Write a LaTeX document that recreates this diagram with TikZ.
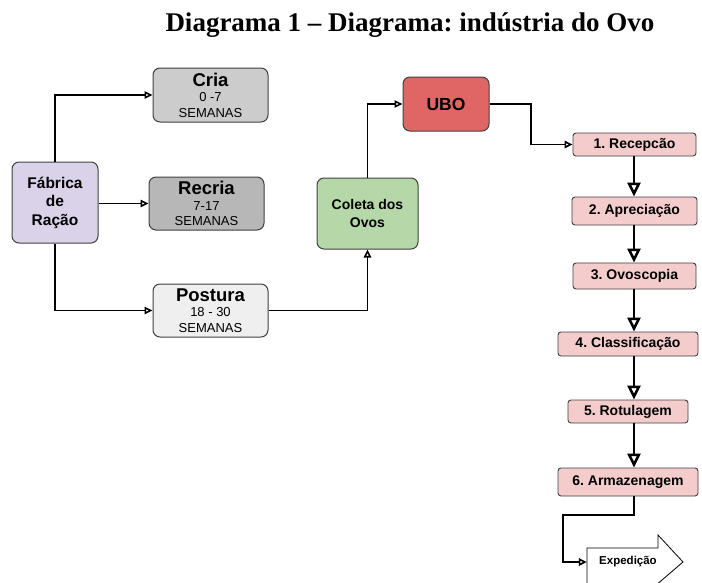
\documentclass[tikz,border=0pt]{standalone}
\usepackage{fontspec}
\setmainfont{Liberation Serif}
\setsansfont{Liberation Sans}
\usetikzlibrary{arrows.meta,calc}
\definecolor{fabfill}{HTML}{D9D2E9}
\definecolor{criafill}{HTML}{CCCCCC}
\definecolor{recriafill}{HTML}{B7B7B7}
\definecolor{posturafill}{HTML}{EFEFEF}
\definecolor{coletafill}{HTML}{B6D7A8}
\definecolor{ubofill}{HTML}{E06666}
\definecolor{stepfill}{HTML}{F4CCCC}
\definecolor{edge}{HTML}{404040}
\frenchspacing
\begin{document}
\begin{tikzpicture}[x=1pt,y=-1pt,
  box/.style={draw=edge, line width=1pt, rounded corners=7pt, align=center, inner sep=0pt, font=\sffamily},
  stepbox/.style={draw=edge, line width=0.9pt, rounded corners=3pt, fill=stepfill, inner sep=0pt,
    font=\sffamily\bfseries\fontsize{14}{16}\selectfont},
  conn/.style={line width=1.6pt, -{Triangle[open,length=8pt,width=7.5pt]}},
  bigconn/.style={line width=2.6pt, -{Triangle[open,length=14pt,width=13pt]}},
  sub/.style={font=\sffamily\fontsize{13}{15.5}\selectfont}
]
\useasboundingbox (0,0) rectangle (702,582);

\node[font=\bfseries\fontsize{27}{30}\selectfont, anchor=base] (title) at (410,31) {Diagrama 1 – Diagrama: indústria do Ovo};

\node[box, fill=fabfill, minimum width=86pt, minimum height=81pt,
  font=\sffamily\bfseries\fontsize{15.5}{18.5}\selectfont] (fab) at (55,202.5) {Fábrica\\de\\Ração};

\node[box, sub, fill=criafill, minimum width=115pt, minimum height=54pt] (cria) at (210.5,95)
  {{\bfseries\fontsize{18.5}{18}\selectfont Cria}\\0 -7\\SEMANAS};
\node[box, sub, fill=recriafill, minimum width=115pt, minimum height=53pt] (recria) at (206.5,203.5)
  {{\bfseries\fontsize{18.5}{18}\selectfont Recria}\\7-17\\SEMANAS};
\node[box, sub, fill=posturafill, minimum width=115pt, minimum height=53pt] (postura) at (210.5,310.5)
  {{\bfseries\fontsize{18.5}{18}\selectfont Postura}\\18 - 30\\SEMANAS};

\node[box, fill=coletafill, minimum width=101pt, minimum height=71pt,
  font=\sffamily\bfseries\fontsize{14}{18}\selectfont] (coleta) at (367.5,213.5) {Coleta dos\\Ovos};
\node[box, fill=ubofill, minimum width=86pt, minimum height=54pt,
  font=\sffamily\bfseries\fontsize{17.5}{20}\selectfont] (ubo) at (446,104) {UBO};

\node[stepbox, minimum width=123pt, minimum height=23pt] (s1) at (634.5,144.5) {1. Recepcão};
\node[stepbox, minimum width=125pt, minimum height=28pt] (s2) at (634.5,211) {2. Apreciação};
\node[stepbox, minimum width=123pt, minimum height=26pt] (s3) at (634.5,276) {3. Ovoscopia};
\node[stepbox, minimum width=140pt, minimum height=24pt] (s4) at (628,344) {4. Classificação};
\node[stepbox, minimum width=120pt, minimum height=23pt] (s5) at (628,411.5) {5. Rotulagem};
\node[stepbox, minimum width=140pt, minimum height=28pt] (s6) at (628,482) {6. Armazenagem};

% Expedicao arrow shape
\draw[line width=0.8pt, draw=black, fill=white]
  (587,548) -- (658,548) -- (658,535) -- (683,562) -- (655,586) -- (587,586) -- cycle;
\node[inner sep=0pt, minimum width=82pt, minimum height=28pt,
  font=\sffamily\bfseries\fontsize{11.5}{13}\selectfont] (exp) at (628,562) {Expedição};

% connectors
\draw[conn] (fab.north) |- (cria.west);
\draw[conn] (fab.east |- recria.west) -- (recria.west);
\draw[conn] (fab.south) |- (postura.west);
\draw[conn] (postura.east) -| (coleta.south);
\draw[conn] (coleta.north) |- (ubo.west);
\coordinate (k0) at (531,104);
\draw[conn] (ubo.east) -- (k0) |- (s1.west);

\coordinate (col) at (634,0);
\draw[bigconn] (s1.south -| col) -- (s2.north -| col);
\draw[bigconn] (s2.south -| col) -- (s3.north -| col);
\draw[bigconn] (s3.south -| col) -- (s4.north -| col);
\draw[bigconn] (s4.south -| col) -- (s5.north -| col);
\draw[bigconn] (s5.south -| col) -- (s6.north -| col);

\coordinate (k1) at (563,515);
\draw[conn] (s6.south -| col) |- (k1) |- (exp.west);
\end{tikzpicture}
\end{document}
